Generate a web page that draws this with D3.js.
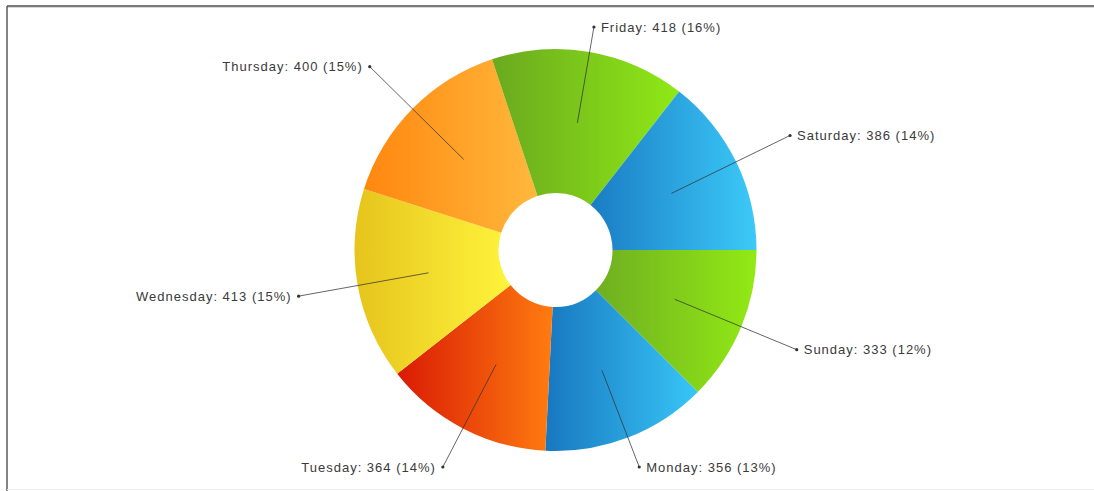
<!DOCTYPE html>
<html><head><meta charset="utf-8">
<script src="https://cdn.jsdelivr.net/npm/d3@7"></script>
<style>html,body{margin:0;padding:0;background:#fff;}svg{display:block;}</style>
</head><body>
<script>
const categories = ["Sunday","Monday","Tuesday","Wednesday","Thursday","Friday","Saturday"];
const values = [333,356,364,413,400,418,386];
const colorsDark = ["#6fae22","#1877c0","#d91a04","#e6c41c","#ff870f","#6aa91f","#1a7cc4"];
const colorsLight = ["#92ea14","#38c6f6","#ff7c10","#fff43c","#ffb83c","#8fe916","#3ccaf8"];

const W = 1094, H = 491;
const svg = d3.select("body").append("svg").attr("width", W).attr("height", H);

// frame
svg.append("line").attr("x1",7).attr("x2",W).attr("y1",6.5).attr("y2",6.5).attr("stroke","#d8d8d8").attr("stroke-width",3);
svg.append("line").attr("x1",7).attr("x2",W).attr("y1",6).attr("y2",6).attr("stroke","#5a5a5a").attr("stroke-width",1.5);
svg.append("line").attr("x1",7).attr("x2",7).attr("y1",6).attr("y2",H).attr("stroke","#5a5a5a").attr("stroke-width",1.5);
svg.append("line").attr("x1",7).attr("x2",W).attr("y1",489.5).attr("y2",489.5).attr("stroke","#eeeeee").attr("stroke-width",1);

const cx = 555.5, cy = 250, R = 201, r0 = 57;
const total = d3.sum(values);
const data = categories.map((c,i)=>({cat:c, value:values[i], i}));

const defs = svg.append("defs");
data.forEach(d=>{
  const g = defs.append("linearGradient").attr("id","g"+d.i).attr("x1","0").attr("x2","1").attr("y1","0").attr("y2","0");
  g.append("stop").attr("offset","0").attr("stop-color",colorsDark[d.i]);
  g.append("stop").attr("offset","1").attr("stop-color",colorsLight[d.i]);
});

const pie = d3.pie().value(d=>d.value).sort(null).startAngle(Math.PI/2).endAngle(Math.PI/2 + 2*Math.PI);
const arc = d3.arc().innerRadius(r0).outerRadius(R);
const arcs = pie(data);

const g = svg.append("g").attr("transform",`translate(${cx},${cy})`);
g.selectAll("path.slice").data(arcs).join("path").attr("class","slice")
  .attr("d",arc).attr("fill",d=>`url(#g${d.data.i})`);

const labelR = 261, yMin = 27 - cy, yMax = 467 - cy;
arcs.forEach(a=>{
  const m = (a.startAngle + a.endAngle)/2;
  let dx = Math.sin(m), dy = -Math.cos(m);
  let rr = labelR;
  if (dy*rr < yMin) rr = yMin/dy;
  if (dy*rr > yMax) rr = yMax/dy;
  const px = dx*rr, py = dy*rr;
  const c = arc.centroid(a);
  g.append("line").attr("x1",c[0]).attr("y1",c[1]).attr("x2",px).attr("y2",py)
    .attr("stroke","#333").attr("stroke-opacity",0.75).attr("stroke-width",1);
  g.append("circle").attr("cx",px).attr("cy",py).attr("r",1.6).attr("fill","#333");
  const right = px > 0;
  const pct = Math.round(a.data.value/total*100);
  g.append("text").attr("x", right ? px+7 : px-7).attr("y", py)
    .attr("text-anchor", right ? "start" : "end")
    .attr("dominant-baseline","central")
    .attr("font-family","Liberation Sans, Arial, sans-serif")
    .attr("font-size","13px").attr("letter-spacing","1px")
    .attr("fill","#3a3a3a")
    .text(`${a.data.cat}: ${a.data.value} (${pct}%)`);
});
</script>
</body></html>
